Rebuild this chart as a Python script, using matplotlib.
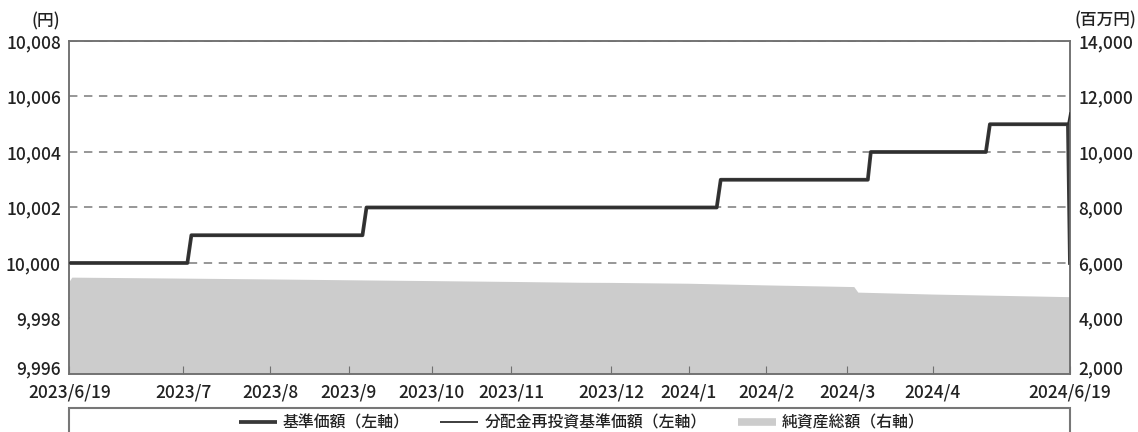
import matplotlib
matplotlib.use('Agg')
import matplotlib.pyplot as plt
from matplotlib.lines import Line2D
from matplotlib.patches import Rectangle

plt.rcParams['font.family'] = ['Noto Sans CJK JP', 'DejaVu Sans']
plt.rcParams['font.weight'] = 'medium'

# x is a position along the period (0 = 2023/6/19, 1000 = 2024/6/19)
tick_pos = [0, 114, 200.7, 279.4, 362.4, 441.4, 541.4, 619, 696.4, 777.4, 863, 1000]
tick_labels = ['2023/6/19', '2023/7', '2023/8', '2023/9', '2023/10', '2023/11',
               '2023/12', '2024/1', '2024/2', '2024/3', '2024/4', '2024/6/19']

# 基準価額 / 分配金再投資基準価額 (円)
nav_x = [0, 118, 122, 293, 297, 647, 651, 798, 801, 916, 920, 998, 1000]
nav = [10000, 10000, 10001, 10001, 10002, 10002, 10003, 10003, 10004, 10004, 10005, 10005, 10000]
reinv = [10000, 10000, 10001, 10001, 10002, 10002, 10003, 10003, 10004, 10004, 10005, 10005, 10005.4]

# 純資産総額 (百万円)
aum_x = [0, 2.5, 114, 200.7, 279.4, 362.4, 441.4, 511, 541.4, 619, 696.4, 784, 788, 863, 1000]
aum = [5350, 5490, 5455, 5425, 5395, 5365, 5335, 5305, 5300, 5270, 5210, 5150, 4950, 4880, 4786]

left_ticks = [9996, 9998, 10000, 10002, 10004, 10006, 10008]
right_ticks = [2000, 4000, 6000, 8000, 10000, 12000, 14000]

frame = '#707070'
txt = '#222222'
fig = plt.figure(figsize=(11.38, 4.32), dpi=100)
ax = fig.add_axes([0.0609, 0.1343, 0.8793, 0.7708])
ax2 = ax.twinx()

# area on the right axis, gridlines below it
ax2.fill_between(aum_x, aum, 2000, color='#cccccc', linewidth=0, zorder=1)
ax2.set_ylim(2000, 14000)
ax2.set_yticks(right_ticks)
ax2.set_yticklabels([f'{v:,}' for v in right_ticks])
ax2.set_axisbelow(True)
ax2.grid(axis='y', color='#7a7a7a', linewidth=1.1, linestyle=(0, (5.5, 4.3)))

ax.set_zorder(ax2.get_zorder() + 1)
ax.patch.set_visible(False)
ax.plot(nav_x, reinv, color='#2e2e2e', linewidth=1.2, zorder=3)
ax.plot(nav_x, nav, color='#383838', linewidth=2.7, zorder=2)
ax.set_ylim(9996, 10008)
ax.set_yticks(left_ticks)
ax.set_yticklabels([f'{v:,}' for v in left_ticks])
ax.set_xlim(0, 1000)
ax.set_xticks(tick_pos)
ax.set_xticklabels(tick_labels)

for a in (ax, ax2):
    for s in a.spines.values():
        s.set_color(frame)
        s.set_linewidth(1.1)
ax.tick_params(axis='y', length=0, labelsize=12.5, pad=6, labelcolor=txt)
ax2.tick_params(axis='y', length=0, labelsize=12.5, pad=6, labelcolor=txt)
ax.tick_params(axis='x', direction='in', length=6, color=frame, labelsize=12.5,
               pad=7, labelcolor=txt)
ax2.tick_params(axis='x', length=0)
ax.get_yticklabels()[0].set_va('baseline')
ax2.get_yticklabels()[0].set_va('baseline')

fig.text(0.0404, 0.951, '(円)', fontsize=12, ha='center', va='center', color=txt)
fig.text(0.971, 0.953, '(百万円)', fontsize=12, ha='center', va='center', color=txt)

# legend box
fig.patches.append(Rectangle((0.0609, -0.1), 0.8793, 0.1556, transform=fig.transFigure,
                             fill=False, edgecolor='#777777', linewidth=1.5))
handles = [Line2D([], [], color='#383838', linewidth=2.7, solid_capstyle='butt'),
           Line2D([], [], color='#2e2e2e', linewidth=1.3, solid_capstyle='butt'),
           Line2D([], [], color='#cccccc', linewidth=5.5, solid_capstyle='butt')]
labels = ['基準価額（左軸）', '分配金再投資基準価額（左軸）', '純資産総額（右軸）']
fig.legend(handles, labels, loc='center', bbox_to_anchor=(0.511, 0.021), ncol=3,
           frameon=False, fontsize=11.4, handlelength=2.4, handletextpad=0.38,
           columnspacing=1.95, borderaxespad=0, borderpad=0,
           labelcolor=txt)

fig.savefig('out.png', dpi=100)
